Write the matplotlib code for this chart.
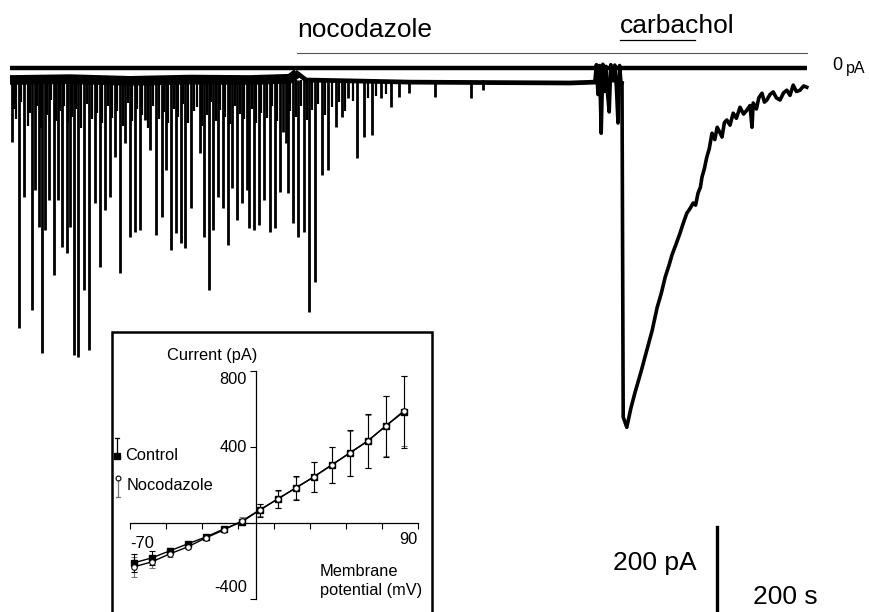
import matplotlib
matplotlib.use('agg')
import matplotlib.pyplot as plt
from matplotlib.patches import Rectangle

plt.rcParams['font.family'] = ['Liberation Sans', 'DejaVu Sans']

W, H = 870, 612

# ---- whole-cell trace (time in s, current in pA) ----
base_t = [0, 150, 300, 450, 600, 700, 718, 740, 850, 1000, 1200, 1400, 1462]
base_i = [-28, -26, -30, -27, -28, -25, -12, -28, -30, -33, -34, -35, -33]

burst_t = [1462, 1466, 1470, 1474, 1478, 1482, 1486, 1490, 1494, 1498, 1502, 1508, 1512, 1516, 1520, 1524, 1528, 1530]
burst_i = [-33, 8, -62, 6, -153, 9, -55, 4, -60, -103, 8, -30, 7, -45, -129, 6, -40, -35]

carb_t = [1530, 1533, 1542, 1552, 1562, 1578, 1592, 1605, 1618, 1628, 1638, 1648, 1655,
          1665, 1675, 1684, 1692, 1700, 1708, 1714, 1720, 1726, 1730, 1736, 1742, 1748,
          1755, 1762, 1768, 1774, 1780, 1786, 1792, 1800, 1808, 1816, 1825, 1834, 1842,
          1850, 1855, 1858, 1866, 1872, 1880, 1886, 1892, 1900, 1908, 1916, 1925, 1934,
          1942, 1950, 1958, 1966, 1975, 1984, 1992]
carb_i = [-35, -820, -844, -800, -764, -712, -663, -618, -562, -530, -491, -462, -439,
          -414, -388, -362, -341, -330, -317, -322, -294, -280, -256, -236, -209, -190,
          -153, -168, -139, -150, -162, -128, -122, -134, -106, -118, -92, -108, -99,
          -88, -139, -82, -96, -70, -59, -80, -75, -62, -56, -70, -75, -58, -52, -64,
          -40, -55, -52, -42, -45]

# spontaneous inward events (time, peak current)
spike_t = [5, 22, 35, 55, 62, 72, 80, 88, 98, 110, 120, 130, 142, 150, 160, 170, 185,
           198, 212, 225, 238, 250, 262, 275, 288, 300, 312, 325, 338, 350, 365, 380,
           390, 402, 415, 428, 438, 452, 475, 485, 498, 508, 520, 532, 545, 555, 568,
           580, 592, 598, 610, 622, 635, 650, 662, 675, 682, 690, 695, 708, 720, 735,
           748, 762, 780, 795, 815, 830, 845, 868, 885, 905, 928, 952, 972, 998, 1062,
           1152, 1182]
spike_i = [-174, -611, -303, -569, -287, -374, -670, -381, -310, -486, -310, -421, -435,
           -374, -674, -679, -522, -663, -317, -468, -334, -303, -209, -482, -176, -397,
           -385, -381, -122, -193, -392, -350, -240, -428, -388, -411, -423, -329, -200,
           -397, -522, -381, -303, -329, -416, -282, -357, -317, -287, -376, -381, -369,
           -310, -385, -376, -291, -150, -176, -294, -364, -397, -385, -573, -503, -251,
           -240, -139, -115, -70, -212, -162, -157, -70, -92, -68, -59, -68, -70, -52]

# smaller events packed between the large ones
small_t = [10, 15, 28, 45, 50, 67, 77, 93, 103, 115, 125, 136, 146, 155, 165, 178, 192,
           205, 218, 231, 244, 256, 268, 282, 294, 306, 318, 331, 344, 357, 372, 385,
           396, 409, 421, 433, 445, 460, 468, 480, 492, 503, 514, 526, 538, 550, 562,
           574, 586, 604, 616, 628, 642, 656, 668, 700, 714, 728, 742, 755, 770, 788,
           805, 822, 838, 858, 895, 915, 940]
small_i = [-95, -120, -80, -135, -105, -90, -140, -110, -75, -125, -100, -88, -130,
           -115, -95, -140, -85, -120, -105, -130, -90, -118, -100, -135, -82, -125,
           -95, -110, -140, -88, -120, -102, -130, -95, -115, -85, -128, -100, -92,
           -135, -110, -80, -125, -98, -115, -132, -90, -108, -120, -95, -130, -105,
           -118, -88, -125, -100, -115, -90, -122, -98, -85, -110, -92, -80, -100,
           -78, -70, -66, -62]
spike_base = -28

zero_line_t = [0, 1992]
noco_bar_t = [718, 1992]
carb_bar_t = [1525, 1712]

# ---- I-V relation (inset) ----
volt = [-68, -58, -48, -38, -28, -18, -8, 2, 12, 22, 32, 42, 52, 62, 72, 82]
ctrl_i = [-210, -184, -147, -110, -74, -32, 5, 68, 126, 184, 242, 305, 368, 431, 510, 584]
ctrl_err = [47, 37, 16, 10, 8, 6, 8, 34, 47, 63, 80, 97, 121, 142, 160, 190]
noco_i = [-231, -205, -163, -126, -79, -37, 10, 68, 126, 184, 242, 305, 368, 431, 510, 589]
noco_err = [53, 30, 18, 12, 8, 6, 20, 30, 45, 60, 78, 95, 118, 140, 158, 185]


def px(x, y):
    return x / W, 1 - y / H


fig = plt.figure(figsize=(W / 100, H / 100), dpi=100)
ax = fig.add_axes([0, 0, 1, 1])
ax.set_xlim(-25, 2150)
ax.set_ylim(-1278, 160)
ax.axis('off')

ax.plot(zero_line_t, [0, 0], color='black', lw=3.2, solid_capstyle='butt')
ax.plot(noco_bar_t, [35, 35], color='#555555', lw=0.8)
ax.plot(carb_bar_t, [66, 66], color='black', lw=0.9)

ax.plot(base_t[:7], base_i[:7], color='black', lw=7, solid_capstyle='butt')
ax.plot(base_t[6:], base_i[6:], color='black', lw=3.4)
ax.plot(burst_t, burst_i, color='black', lw=2.6)
ax.plot(carb_t, carb_i, color='black', lw=2.6, solid_joinstyle='round')
ax.vlines(small_t, spike_base, small_i, color='black', lw=1.6)
ax.vlines(spike_t, spike_base, spike_i, color='black', lw=2.0)

fig.text(*px(297, 37), 'nocodazole', fontsize=19, ha='left', va='baseline')
fig.text(*px(620, 33), 'carbachol', fontsize=19, ha='left', va='baseline')
fig.text(*px(832, 65), '0', fontsize=13, ha='left', va='center')
fig.text(*px(846, 69), 'pA', fontsize=11.5, ha='left', va='center')
fig.text(*px(655, 563), '200 pA', fontsize=19, ha='center', va='center')
fig.text(*px(785, 597), '200 s', fontsize=19, ha='center', va='center')

# 200 pA scale bar
ax.plot([1767, 1767], [(68 - 527) * 2.35, (68 - 527) * 2.35 - 200], color='black', lw=2.4)

# ---- inset ----
fig.add_artist(Rectangle(px(112, 614), (432 - 112) / W, (614 - 332) / H,
                         transform=fig.transFigure, fill=False, lw=1.8, color='black'))

x0, y0 = px(130, 599)
axi = fig.add_axes([x0, y0, 288 / W, 228 / H])
axi.patch.set_visible(False)
axi.set_xlim(-70, 90)
axi.set_ylim(-400, 800)
for s in ['top', 'right']:
    axi.spines[s].set_visible(False)
axi.spines['left'].set_position(('data', 0))
axi.spines['bottom'].set_position(('data', 0))
axi.spines['left'].set_linewidth(0.9)
axi.spines['bottom'].set_linewidth(0.9)
axi.set_xticks([-70, -50, -30, -10, 10, 30, 50, 70, 90])
axi.set_yticks([-400, 400, 800])
axi.set_xticklabels([])
axi.set_yticklabels([])
axi.tick_params(direction='out', length=4, width=0.8)

axi.errorbar(volt, noco_i, yerr=noco_err, fmt='none', ecolor='#777777', elinewidth=0.8,
             capsize=2, capthick=0.8, zorder=2)
axi.errorbar(volt, ctrl_i, yerr=ctrl_err, fmt='none', ecolor='black', elinewidth=0.8,
             capsize=2, capthick=0.8, zorder=3)
axi.plot(volt, ctrl_i, color='black', lw=1, marker='s', ms=5, mfc='black', mec='black', zorder=4)
axi.plot(volt, noco_i, color='black', lw=1, marker='o', ms=4, mfc='white', mec='black',
         mew=0.8, zorder=5)

fs = 11.8
fig.text(*px(212, 355), 'Current (pA)', fontsize=fs, ha='center', va='center')
fig.text(*px(247, 380), '800', fontsize=fs, ha='right', va='center')
fig.text(*px(247, 447), '400', fontsize=fs, ha='right', va='center')
fig.text(*px(247, 587), '-400', fontsize=fs, ha='right', va='center')
fig.text(*px(130, 543), '-70', fontsize=fs, ha='left', va='center')
fig.text(*px(418, 540), '90', fontsize=fs, ha='right', va='center')
fig.text(*px(320, 571), 'Membrane', fontsize=fs, ha='left', va='center')
fig.text(*px(320, 590), 'potential (mV)', fontsize=fs, ha='left', va='center')

# legend
fig.add_artist(plt.Line2D(*zip(px(117, 438), px(117, 456)), transform=fig.transFigure, color='black', lw=0.9))
fig.add_artist(plt.Line2D(*zip(px(115, 438), px(119, 438)), transform=fig.transFigure, color='black', lw=0.9))
fig.add_artist(plt.Line2D([117 / W], [1 - 456 / H], transform=fig.transFigure, marker='s', ms=5,
                          color='black'))
fig.text(*px(125, 456), 'Control', fontsize=fs, ha='left', va='center')
fig.add_artist(plt.Line2D(*zip(px(118, 478), px(118, 497)), transform=fig.transFigure, color='#777777', lw=0.9))
fig.add_artist(plt.Line2D(*zip(px(116, 497), px(120, 497)), transform=fig.transFigure, color='#777777', lw=0.9))
fig.add_artist(plt.Line2D([118 / W], [1 - 478 / H], transform=fig.transFigure, marker='o', ms=3.5,
                          mfc='white', mec='black', mew=0.8))
fig.text(*px(127, 485), 'Nocodazole', fontsize=fs, ha='left', va='center')

fig.savefig('out.png', dpi=100)
